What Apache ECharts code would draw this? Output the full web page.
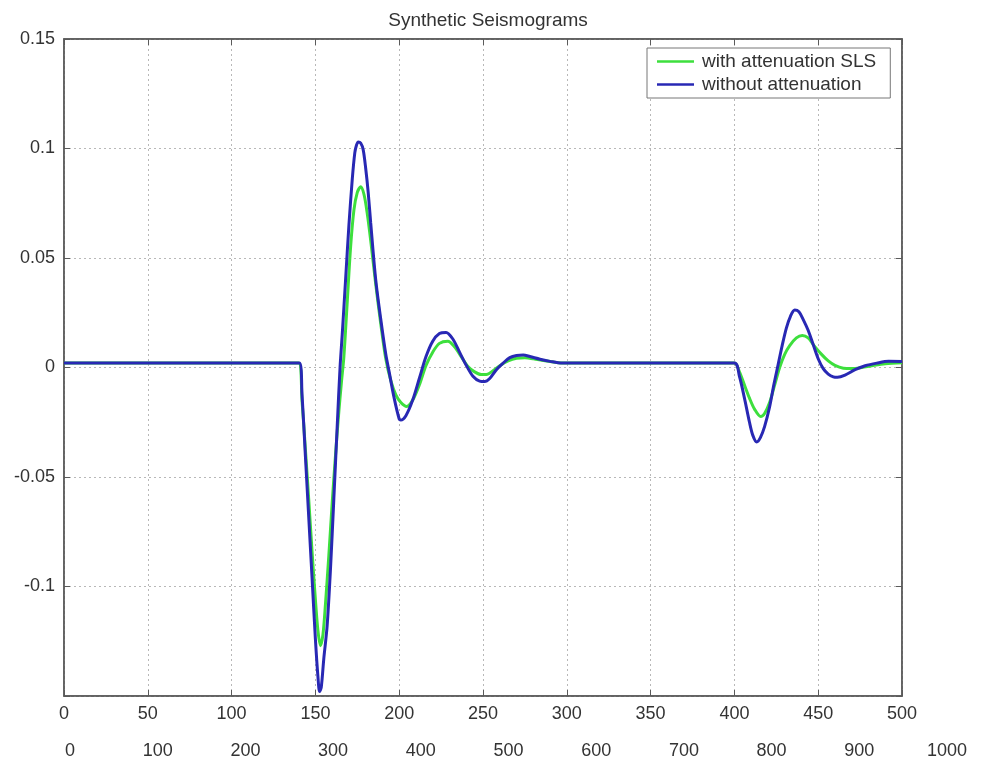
<!DOCTYPE html>
<html>
<head>
<meta charset="utf-8">
<script src="https://cdn.jsdelivr.net/npm/echarts@6/dist/echarts.min.js"></script>
<style>
html,body{margin:0;padding:0;background:#fff;}
#chart{width:984px;height:762px;}
</style>
</head>
<body>
<div id="chart"></div>
<script>
// ---- data ----
const chartTitle = 'Synthetic Seismograms';
const seriesNames = ['with attenuation SLS', 'without attenuation'];

// with attenuation SLS (green)
const timeWith = [0, 100, 140, 142, 144, 146, 148, 150, 151.5, 153, 154.5, 156, 158, 160, 162, 164, 165.5, 167, 169, 171, 173, 175, 177, 179, 181, 183, 186, 189, 192, 195, 198, 201, 204.5, 208, 212, 216, 220, 224, 229, 233, 237, 241, 245, 249, 252, 256, 260, 265, 270, 275, 280, 286, 292, 300, 350, 400, 403, 406, 409, 412, 415.7, 418, 421, 424, 427, 430, 433, 437, 440.5, 444, 447.5, 452, 456, 460, 465, 470, 476, 482, 490, 500];
const ampWith = [0.002, 0.002, 0.002, -0.015, -0.037, -0.06, -0.084, -0.106, -0.12, -0.127, -0.122, -0.108, -0.086, -0.062, -0.04, -0.02, -0.007, 0.005, 0.03, 0.055, 0.072, 0.080, 0.0825, 0.079, 0.070, 0.058, 0.038, 0.020, 0.004, -0.006, -0.0125, -0.016, -0.0178, -0.015, -0.008, 0.001, 0.007, 0.011, 0.012, 0.0095, 0.005, 0.0005, -0.002, -0.0032, -0.0032, -0.0015, 0.0008, 0.003, 0.0042, 0.0044, 0.004, 0.0032, 0.0025, 0.002, 0.002, 0.002, -0.002, -0.008, -0.014, -0.019, -0.0224, -0.021, -0.016, -0.008, 0.000, 0.006, 0.010, 0.0135, 0.0146, 0.0135, 0.010, 0.006, 0.003, 0.001, -0.0003, -0.0005, 0.0, 0.0008, 0.0017, 0.0022];

// without attenuation (blue)
const timeWithout = [0, 100, 140.5, 142, 144, 146, 148, 150, 151.5, 152.5, 153.5, 155, 157, 159, 161, 163, 164.7, 166, 168, 170, 172, 173.5, 174.5, 175.6, 177, 178.5, 180, 181.5, 183, 186, 189, 192, 194, 197, 200, 201, 204, 208, 212, 216, 220, 224, 228, 232, 236, 240, 244, 248, 251, 254, 258, 262, 266, 270, 274, 278, 284, 290, 297, 350, 400, 403, 406, 409, 411, 413.3, 415.5, 418, 421, 423.5, 426, 428.5, 431, 433.5, 436, 438.5, 441, 444, 447, 450, 453, 456, 459, 461.5, 466, 472, 478, 485, 492, 500];
const ampWithout = [0.002, 0.002, 0.002, -0.012, -0.04, -0.068, -0.096, -0.124, -0.141, -0.148, -0.146, -0.133, -0.118, -0.092, -0.06, -0.027, 0.0, 0.015, 0.040, 0.065, 0.086, 0.098, 0.1015, 0.103, 0.1025, 0.0995, 0.091, 0.080, 0.066, 0.040, 0.022, 0.006, -0.002, -0.014, -0.0235, -0.024, -0.022, -0.015, -0.005, 0.005, 0.012, 0.0155, 0.016, 0.013, 0.007, 0.001, -0.004, -0.0062, -0.0064, -0.005, -0.001, 0.002, 0.0045, 0.0055, 0.0057, 0.005, 0.0038, 0.0028, 0.002, 0.002, 0.002, -0.004, -0.014, -0.025, -0.031, -0.034, -0.032, -0.027, -0.018, -0.008, 0.001, 0.010, 0.018, 0.0235, 0.0263, 0.0255, 0.022, 0.017, 0.0105, 0.004, -0.0005, -0.003, -0.0043, -0.0045, -0.0035, -0.001, 0.0008, 0.002, 0.0028, 0.0027];

// axis ticks
const xMain = {min: 0, max: 500, step: 50};
const xLower = {min: 0, max: 1000, step: 100};
const yMain = {min: -0.15, max: 0.15, step: 0.05};
const hiddenYLabels = [-0.15];

// ---- chart ----
const FONT = '"Liberation Sans", Arial, Helvetica, sans-serif';
const zip = (t, v) => t.map((x, i) => [x, v[i]]);
const chart = echarts.init(document.getElementById('chart'), null, {renderer: 'canvas'});

const frameColor = '#5a5a5a';
const gridLine = {show: true, lineStyle: {color: '#b8b8b8', type: [2, 3], width: 1}};
const frameLine = {show: true, onZero: false, lineStyle: {color: frameColor, width: 1.5}};
const inTick = {show: true, inside: true, length: 6, lineStyle: {color: frameColor}};

chart.setOption({
  animation: false,
  backgroundColor: '#ffffff',
  title: {
    text: chartTitle,
    left: 483, top: 6, textAlign: 'center',
    textStyle: {fontFamily: FONT, fontSize: 19, fontWeight: 'normal', color: '#333'}
  },
  legend: {
    orient: 'vertical',
    left: 647, top: 48,
    padding: [4, 14, 4, 10],
    itemWidth: 37, itemHeight: 10, itemGap: 4,
    backgroundColor: '#fff',
    borderColor: '#777', borderWidth: 1,
    borderRadius: 0,
    textStyle: {fontFamily: FONT, fontSize: 19, color: '#333', lineHeight: 19, padding: [0, 0, 0, 3]},
    data: seriesNames.map(n => ({name: n, icon: 'path://M0,0 L37,0 L37,2.5 L0,2.5 Z'}))
  },
  grid: [
    {left: 64, right: 82, top: 39, bottom: 66, show: true, borderColor: frameColor, borderWidth: 1.5, backgroundColor: '#fff'},
    {left: 70, right: 37, top: 728, height: 10, show: false}
  ],
  xAxis: [
    {gridIndex: 0, type: 'value', position: 'bottom', min: xMain.min, max: xMain.max, interval: xMain.step,
     axisLine: frameLine, axisTick: inTick,
     axisLabel: {fontFamily: FONT, fontSize: 18, color: '#333', margin: 9},
     splitLine: gridLine},
    {gridIndex: 0, type: 'value', position: 'top', min: xMain.min, max: xMain.max, interval: xMain.step,
     axisLine: frameLine, axisTick: inTick,
     axisLabel: {show: false}, splitLine: {show: false}},
    {gridIndex: 1, type: 'value', position: 'bottom', min: xLower.min, max: xLower.max, interval: xLower.step,
     axisLine: {show: false, onZero: false}, axisTick: {show: false}, splitLine: {show: false},
     axisLabel: {fontFamily: FONT, fontSize: 18, color: '#333', margin: 4, showMaxLabel: true, showMinLabel: true,
       formatter: v => String(v)}}
  ],
  yAxis: [
    {gridIndex: 0, type: 'value', position: 'left', min: yMain.min, max: yMain.max, interval: yMain.step,
     axisLine: frameLine, axisTick: inTick,
     axisLabel: {fontFamily: FONT, fontSize: 18, color: '#333', margin: 9,
       formatter: v => hiddenYLabels.some(h => Math.abs(h - v) < 1e-9) ? '' : String(+v.toFixed(2))},
     splitLine: gridLine},
    {gridIndex: 0, type: 'value', position: 'right', min: yMain.min, max: yMain.max, interval: yMain.step,
     axisLine: frameLine, axisTick: inTick,
     axisLabel: {show: false}, splitLine: {show: false}},
    {gridIndex: 1, type: 'value', show: false, min: 0, max: 1}
  ],
  series: [
    {name: seriesNames[0], type: 'line', xAxisIndex: 0, yAxisIndex: 0, symbol: 'none', smooth: 0.3,
     lineStyle: {color: '#3ddf3d', width: 3}, itemStyle: {color: '#3ddf3d'},
     data: zip(timeWith, ampWith)},
    {name: seriesNames[1], type: 'line', xAxisIndex: 0, yAxisIndex: 0, symbol: 'none', smooth: 0.3,
     lineStyle: {color: '#2828b4', width: 3}, itemStyle: {color: '#2828b4'},
     data: zip(timeWithout, ampWithout)}
  ]
});
</script>
</body>
</html>
